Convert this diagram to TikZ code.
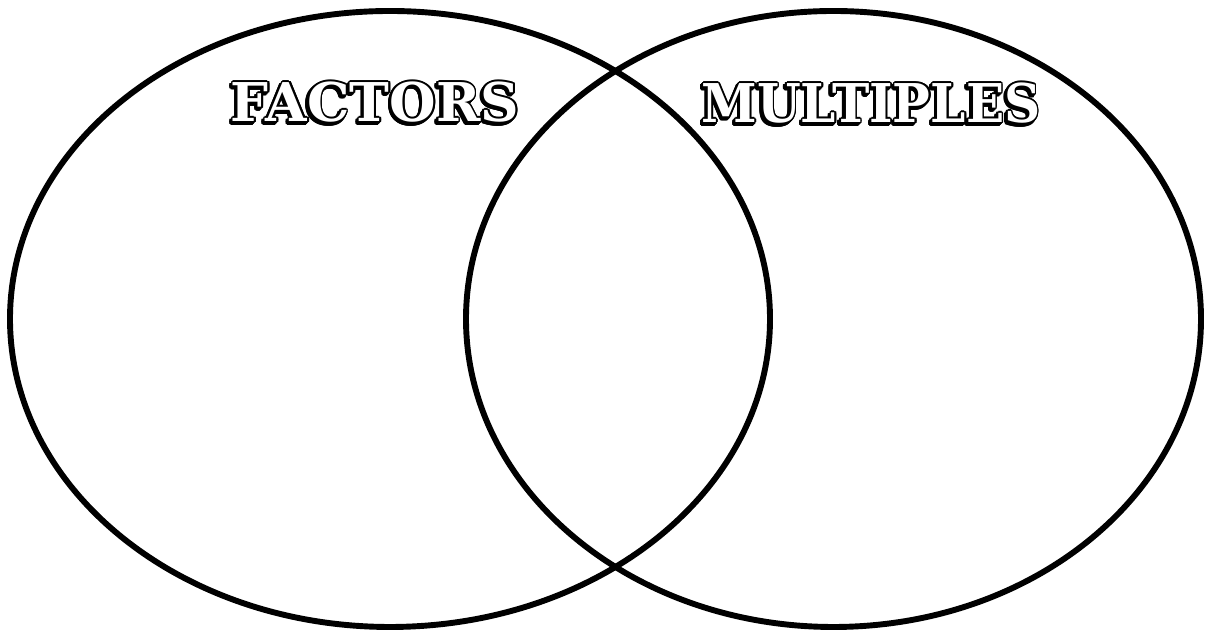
\documentclass[tikz,border=0pt]{standalone}
\usepackage{fontspec}
\usepackage[copies]{contour}
\usetikzlibrary{shapes.geometric}
\newfontfamily\titlefont{DejaVu Serif}
\contourlength{1.2pt}

\begin{document}
\begin{tikzpicture}[
  venn/.style={ellipse, draw, line width=4.2pt, inner sep=0pt, minimum height=15.4cm},
  titulo/.style={inner sep=0pt, font=\titlefont\bfseries\fontsize{38}{40}\selectfont},
  sombra/.style={titulo, text=black}]
\useasboundingbox (0,0) rectangle (30.3,15.775);
\node[venn, minimum width=19.0cm] (factors) at (9.75,7.8) {};
\node[venn, minimum width=18.375cm] (multiples) at (20.8375,7.8) {};
% titles: shadow first, then white letters with black outline
\node[sombra] (factorsSombra) at (9.33,13.15) {\contour{black}{FACTORS}};
\node[titulo, text=white] (factorsTitulo) at (9.375,13.2) {\contour{black}{FACTORS}};
\node[sombra, xscale=0.94] (multiplesSombra) at (21.73,13.125) {\contour{black}{MULTIPLES}};
\node[titulo, text=white, xscale=0.94] (multiplesTitulo) at (21.775,13.175) {\contour{black}{MULTIPLES}};
\end{tikzpicture}
\end{document}
